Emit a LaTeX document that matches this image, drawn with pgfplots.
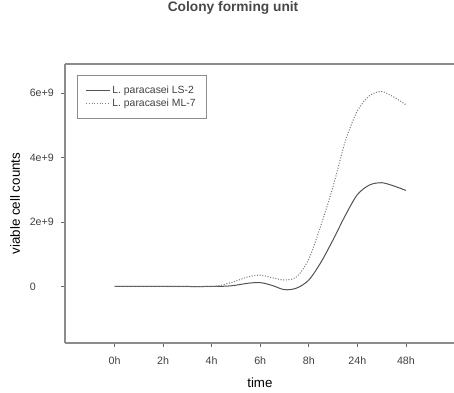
\documentclass[border=0pt]{standalone}
\usepackage{fontspec}
\setmainfont{Liberation Sans}
\usepackage{pgfplots}
\pgfplotsset{compat=1.18}

% Viable cell counts (in units of 1e9) against sampling time index
% 0 = 0h, 1 = 2h, 2 = 4h, 3 = 6h, 4 = 8h, 5 = 24h, 6 = 48h
\begin{document}
\begin{tikzpicture}
\begin{axis}[
  scale only axis,
  width=291.75pt, height=209.25pt,
  xmin=-1.02, xmax=6.99,
  ymin=-1.755, ymax=6.905,
  separate axis lines,
  axis x line*=box,
  axis y line*=left,
  axis line style={-, black!45, line width=0.9pt},
  xtick={0,...,6},
  xticklabels={0h,2h,4h,6h,8h,24h,48h},
  ytick={0,2,4,6},
  yticklabels={0,2e+9,4e+9,6e+9},
  xtick pos=bottom, ytick pos=left,
  tick align=outside,
  major tick length=3pt,
  tick style={black!60, line width=0.5pt},
  /pgf/number format/assume math mode=true,
  ticklabel style={font=\fontsize{8}{9}\selectfont, text=black!75},
  yticklabel style={anchor=west, inner sep=0pt, xshift=-23.6pt},
  xticklabel style={yshift=-4pt},
  xlabel={time},
  ylabel={viable cell counts},
  label style={font=\fontsize{9.3}{11}\selectfont, text=black!75},
  every axis x label/.style={at={(axis description cs:0.501,-0.143)}, anchor=center},
  every axis y label/.style={at={(axis description cs:-0.1285,0.5)}, rotate=90, anchor=center},
  title={Colony forming unit},
  title style={at={(axis description cs:0.432,1.172)}, anchor=center,
               font=\bfseries\fontsize{10.3}{12}\selectfont, text=black!72},
  legend style={at={(axis description cs:0.030,0.9606)}, anchor=north west,
                draw=black!45, line width=0.6pt,
                font=\fontsize{7.8}{9}\selectfont, text=black!75,
                inner xsep=6.5pt, inner ysep=6.5pt,
                row sep=0.5pt,
                nodes={inner sep=1.2pt},
                cells={anchor=west}},
  legend image code/.code={\draw[#1] (0pt,0pt) -- (18pt,0pt);},
]
% L. paracasei LS-2
\addplot[black!68, line width=0.75pt, smooth] coordinates {
  (0,0) (1,0) (2,0) (2.4,0.02) (2.75,0.10) (3.0,0.12) (3.25,0.03)
  (3.5,-0.10) (3.75,-0.05) (4.0,0.20) (4.25,0.75) (4.5,1.45)
  (4.75,2.20) (5.0,2.85) (5.25,3.15) (5.5,3.22) (5.75,3.12) (6.0,2.98)
};
% L. paracasei ML-7
\addplot[black!50, line width=0.8pt, dash pattern=on 0.8pt off 1.2pt, smooth] coordinates {
  (0,0) (1,0) (2,0) (2.4,0.12) (2.75,0.30) (3.0,0.35) (3.25,0.27)
  (3.5,0.20) (3.75,0.30) (4.0,0.85) (4.25,1.90) (4.5,3.10)
  (4.75,4.50) (5.0,5.45) (5.25,5.92) (5.5,6.05) (5.75,5.88) (6.0,5.64)
};
\legend{L. paracasei LS-2, L. paracasei ML-7}
\end{axis}
\pgfresetboundingbox
\path[use as bounding box]
  ([xshift=-48.75pt,yshift=-36.75pt]current axis.south west)
  rectangle ([yshift=48pt]current axis.north east);
\end{tikzpicture}
\end{document}
